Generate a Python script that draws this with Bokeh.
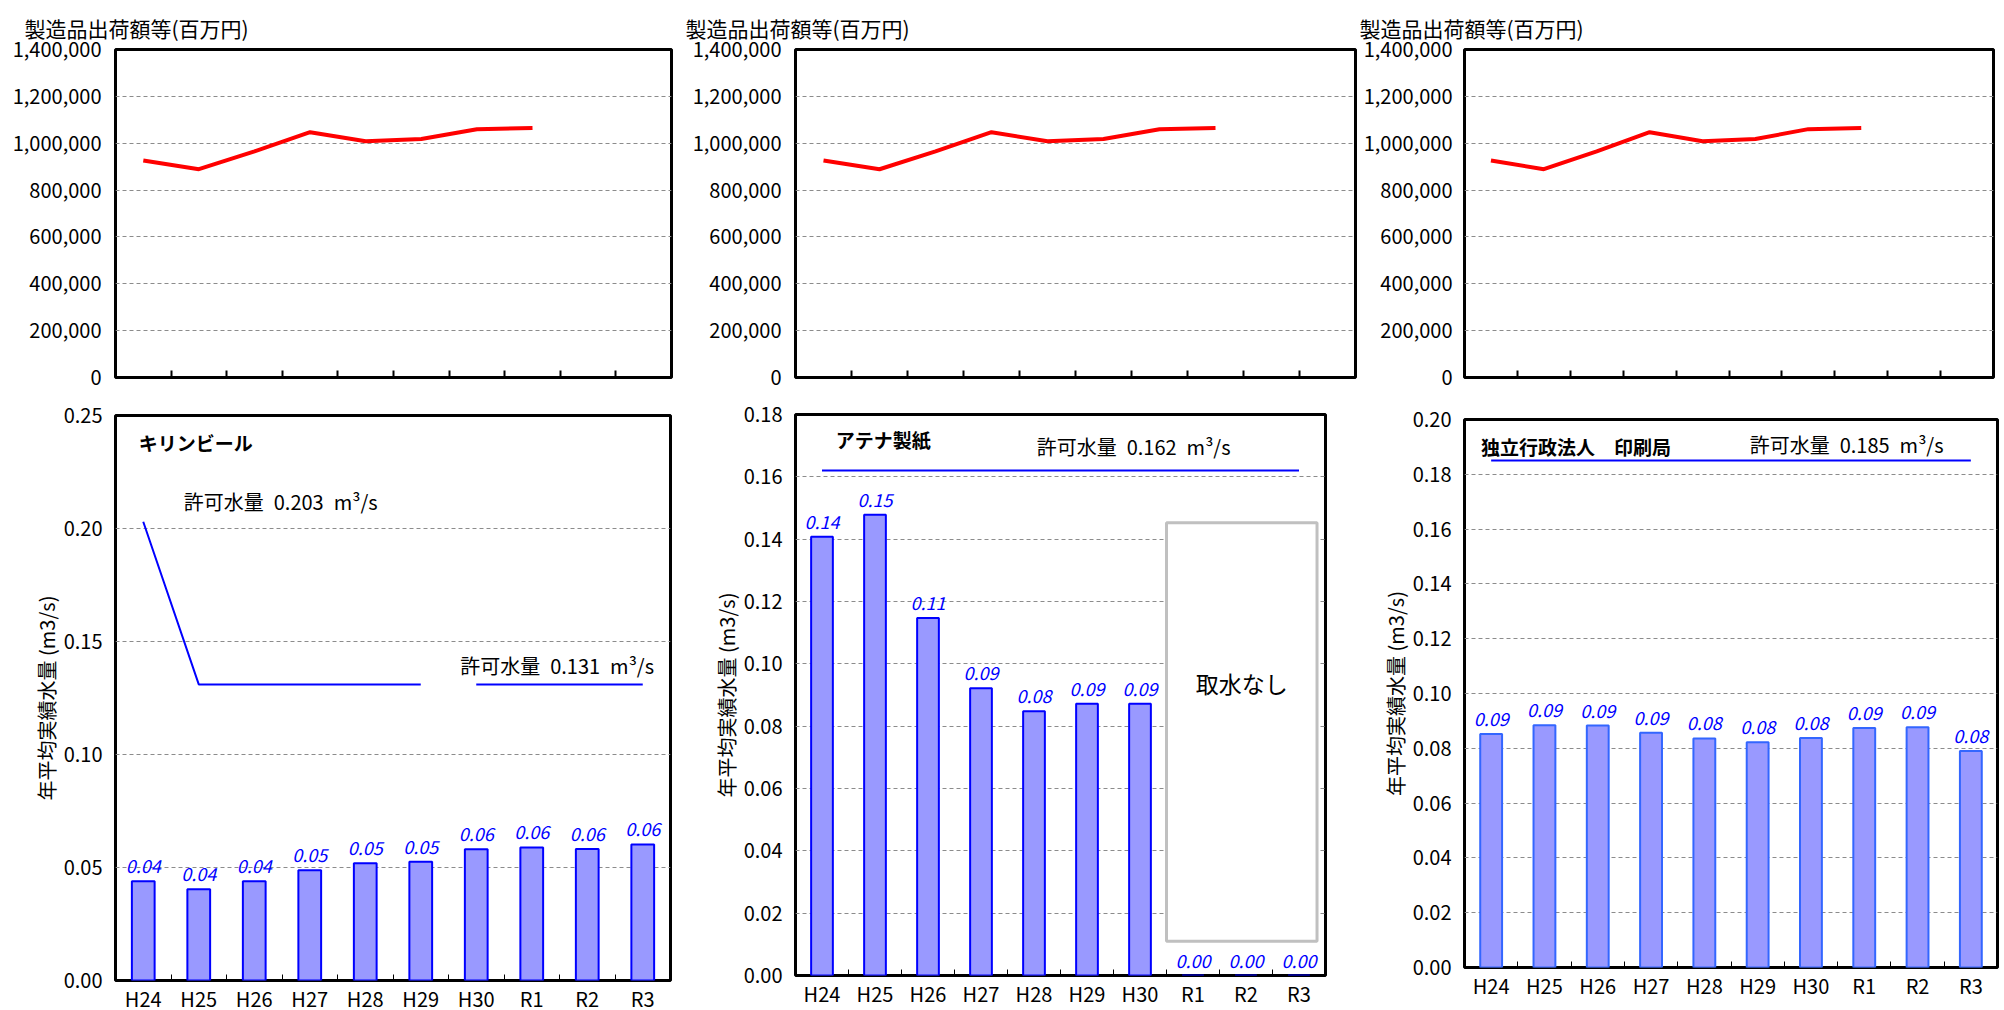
from bokeh.plotting import figure
from bokeh.models import Range1d, FixedTicker, SingleIntervalTicker, NumeralTickFormatter
from bokeh.layouts import row, column
from bokeh.embed import file_html
from bokeh.resources import INLINE
from bokeh.core.properties import value

FONT = "Noto Sans CJK JP"

# ---------------- data ----------------
years = ["H24", "H25", "H26", "H27", "H28", "H29", "H30", "R1", "R2", "R3"]

shipment_title = "製造品出荷額等(百万円)"
shipment_years = ["H24", "H25", "H26", "H27", "H28", "H29", "H30", "R1"]
shipment_values = [926000, 889000, 965000, 1047000, 1008000, 1018000, 1060000, 1065000]

ylabel = "年平均実績水量 (m3/s)"

kirin_name = "キリンビール"
kirin_values = [0.0439, 0.0404, 0.0439, 0.0488, 0.0519, 0.0525, 0.0581, 0.0589, 0.0582, 0.0602]
kirin_permit_years_a = ["H24", "H25", "H29"]
kirin_permit_a = [0.203, 0.131, 0.131]
kirin_permit_years_b = ["H30", "R3"]
kirin_permit_b = [0.131, 0.131]

athena_name = "アテナ製紙"
athena_values = [0.1408, 0.1478, 0.1147, 0.0922, 0.0848, 0.0872, 0.0872, 0.0, 0.0, 0.0]
athena_permit_years = ["H24", "R3"]
athena_permit = [0.162, 0.162]
athena_note = "取水なし"

print_name = "独立行政法人\u3000印刷局"
print_values = [0.0852, 0.0884, 0.0883, 0.0857, 0.0836, 0.0822, 0.0838, 0.0874, 0.0877, 0.0790]
print_permit_years = ["H24", "R3"]
print_permit = [0.185, 0.185]

SP = "\u2002"
def permit_text(v):
    return f"許可水量{SP}{v:.3f}{SP}m³/s"

pos = {y: i + 0.5 for i, y in enumerate(years)}
centers = [pos[y] for y in years]
bounds = [float(i) for i in range(1, len(years))]


def base_fig(fw, fh, bl, br, bt, bb, ymax, title=None):
    kw = dict(frame_width=fw, frame_height=fh, min_border_left=bl, min_border_right=br,
              min_border_top=bt, min_border_bottom=bb,
              x_range=Range1d(0, len(years)), y_range=Range1d(0, ymax),
              output_backend="svg", toolbar_location=None)
    if title:
        kw["title"] = title
    p = figure(**kw)
    p.outline_line_color = "black"
    p.outline_line_width = 3
    p.outline_line_alpha = 1
    p.background_fill_color = "white"
    p.border_fill_color = "white"
    p.xgrid.visible = False
    p.ygrid.grid_line_color = "#8c8c8c"
    p.ygrid.grid_line_dash = "4 3"
    p.ygrid.grid_line_width = 1
    for ax in (p.xaxis[0], p.yaxis[0]):
        ax.axis_line_color = None
        ax.major_label_text_font = FONT
        ax.major_label_text_font_size = "20px"
        ax.major_label_text_color = "black"
        ax.axis_label_text_color = "black"
    p.yaxis.major_tick_in = 0
    p.yaxis.major_tick_out = 0
    p.yaxis.minor_tick_line_color = None
    return p


def top_fig(bl, fw, br, title_offset, standoff):
    p = base_fig(fw, 328, bl, br, 49, 18, 1400000, title=shipment_title)
    p.title.text_font = FONT
    p.title.text_font_size = "21px"
    p.title.text_font_style = "normal"
    p.title.text_color = "black"
    p.title.align = "left"
    p.title.offset = title_offset
    p.title.standoff = 14
    p.xaxis.ticker = FixedTicker(ticks=[], minor_ticks=bounds)
    p.xaxis.major_tick_in = 0
    p.xaxis.major_tick_out = 0
    p.xaxis.minor_tick_in = 7
    p.xaxis.minor_tick_out = 0
    p.xaxis.minor_tick_line_color = "black"
    p.xaxis.minor_tick_line_width = 2
    p.xaxis.major_label_standoff = 0
    p.yaxis.ticker = SingleIntervalTicker(interval=200000, num_minor_ticks=0)
    p.yaxis.formatter = NumeralTickFormatter(format="0,0")
    p.yaxis.major_label_standoff = standoff
    p.line(x=[pos[y] for y in shipment_years], y=shipment_values, line_color="#ff0000", line_width=4)
    return p


def bottom_fig(bl, fw, br, bt, fh, bb, ymax, interval, vals, bar_line):
    p = base_fig(fw, fh, bl, br, bt, bb, ymax)
    p.xaxis.ticker = FixedTicker(ticks=centers, minor_ticks=bounds)
    p.xaxis.major_label_overrides = {c: y for c, y in zip(centers, years)}
    p.xaxis.major_tick_in = 0
    p.xaxis.major_tick_out = 0
    p.xaxis.minor_tick_in = 6
    p.xaxis.minor_tick_out = 0
    p.xaxis.minor_tick_line_color = "black"
    p.xaxis.minor_tick_line_width = 1
    p.xaxis.major_label_standoff = 3
    p.yaxis.ticker = SingleIntervalTicker(interval=interval, num_minor_ticks=0)
    p.yaxis.formatter = NumeralTickFormatter(format="0.00")
    p.yaxis.major_label_standoff = 13
    p.yaxis.axis_label = ylabel
    p.yaxis.axis_label_text_font = FONT
    p.yaxis.axis_label_text_font_size = "20px"
    p.yaxis.axis_label_text_font_style = "normal"
    p.yaxis.axis_label_text_color = "black"
    p.yaxis.axis_label_standoff = 0
    p.vbar(x=centers, top=vals, width=0.41, fill_color="#9999ff", line_color=bar_line, line_width=2)
    return p


def labels(p, vals, color):
    p.text(x=centers, y=vals, text=[f"{v:.2f}" for v in vals], text_align="center",
           text_baseline="bottom", y_offset=-8, text_font=value(FONT), text_font_style="italic",
           text_font_size="18px", text_color=color)


def note(p, x, y, txt, bold=False, size="20px"):
    p.text(x=[x], y=[y], text=[txt], text_align="left", text_baseline="middle",
           text_font=value(FONT), text_font_style="bold" if bold else "normal",
           text_font_size=size, text_color="black")


# ---------------- column 1: Kirin ----------------
t1 = top_fig(114, 556, 10, -91, 14)
b1 = bottom_fig(115, 555, 10, 20, 565, 30, 0.25, 0.05, kirin_values, "#0000ff")
b1.line(x=[pos[y] for y in kirin_permit_years_a], y=kirin_permit_a, line_color="#0000ff", line_width=2)
b1.line(x=[pos[y] for y in kirin_permit_years_b], y=kirin_permit_b, line_color="#0000ff", line_width=2)
labels(b1, kirin_values, "#0000ff")
note(b1, 0.42, 0.238, kirin_name, bold=True, size="19px")
note(b1, 1.23, 0.2118, permit_text(kirin_permit_a[0]))
note(b1, 6.21, 0.1395, permit_text(kirin_permit_b[0]))

# ---------------- column 2: Athena ----------------
t2 = top_fig(112, 560, 8, -110, 14)
b2 = bottom_fig(115, 530, 35, 19, 561, 35, 0.18, 0.02, athena_values, "#0000ff")
b2.line(x=[pos[y] for y in athena_permit_years], y=athena_permit, line_color="#0000ff", line_width=2)
b2.quad(left=[7.0], right=[9.84], bottom=[0.011], top=[0.1453], fill_color="white",
        line_color="#c0c0c0", line_width=3)
b2.text(x=[8.42], y=[0.094], text=[athena_note], text_align="center", text_baseline="middle",
        text_font=value(FONT), text_font_size="23px", text_color="black")
labels(b2, athena_values, "#0000ff")
note(b2, 0.76, 0.1719, athena_name, bold=True, size="19px")
note(b2, 4.55, 0.1696, permit_text(athena_permit[0]))

# ---------------- column 3: Printing Bureau ----------------
t3 = top_fig(101, 529, 14, -105, 12)
b3 = bottom_fig(97, 533, 14, 24, 548, 43, 0.20, 0.02, print_values, "#3366ff")
b3.line(x=[pos[y] for y in print_permit_years], y=print_permit, line_color="#0000ff", line_width=2)
labels(b3, print_values, "#0000ff")
note(b3, 0.31, 0.1901, print_name, bold=True, size="19px")
note(b3, 5.35, 0.1909, permit_text(print_permit[0]))

layout = row(column(t1, b1, spacing=0), column(t2, b2, spacing=0), column(t3, b3, spacing=0), spacing=0)

open("out.html", "w").write(file_html(layout, INLINE))
